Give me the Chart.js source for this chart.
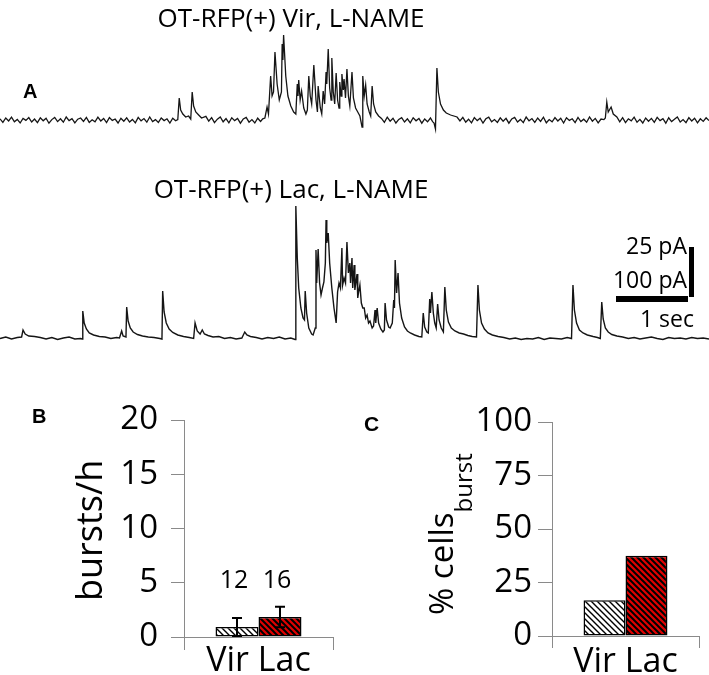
<!DOCTYPE html>
<html>
<head>
<meta charset="utf-8">
<script src="https://cdn.jsdelivr.net/npm/chart.js"></script>
<style>
  body { margin: 0; background: #fff; }
  #page { position: relative; width: 709px; height: 675px; overflow: hidden; font-family: "Open Sans", sans-serif; color: #000; }
  canvas { position: absolute; }
  .txt { position: absolute; white-space: nowrap; line-height: 1; }
  .panel { font-family: "Liberation Sans", Arial, sans-serif; font-weight: bold; font-size: 20px; }
  .rot { position: absolute; left: 0; top: 0; transform-origin: 0 0; white-space: nowrap; line-height: 1; }
  .bar { position: absolute; background: #000; }
</style>
</head>
<body>
<div id="page">
  <canvas id="trace1" width="709" height="106" style="left:0;top:30px"></canvas>
  <canvas id="trace2" width="709" height="150" style="left:0;top:198px"></canvas>
  <canvas id="burstsChart" width="250" height="295" style="left:100px;top:380px"></canvas>
  <canvas id="cellsChart" width="249" height="295" style="left:460px;top:380px"></canvas>

  <div class="txt" style="left:91px;top:4px;width:400px;text-align:center;font-size:26px">OT-RFP(+) Vir, L-NAME</div>
  <div class="txt" style="left:91px;top:175px;width:400px;text-align:center;font-size:26px">OT-RFP(+) Lac, L-NAME</div>
  <div class="txt panel" style="left:23px;top:81px">A</div>
  <div class="txt panel" style="left:32px;top:406px">B</div>
  <div class="txt panel" style="left:364px;top:413px;font-size:21px">C</div>

  <div class="txt" style="right:22px;top:234px;font-size:23px">25 pA</div>
  <div class="txt" style="right:22px;top:268px;font-size:23px">100 pA</div>
  <div class="txt" style="right:15px;top:307px;font-size:23px">1 sec</div>
  <div class="bar" style="left:689px;top:247px;width:5px;height:50px"></div>
  <div class="bar" style="left:616px;top:296px;width:72px;height:6px"></div>

  <div class="rot" style="transform:translate(71px,601px) rotate(-90deg);font-size:36px">bursts/h</div>
  <div class="rot" style="transform:translate(424px,615px) rotate(-90deg);font-size:33px">% cells<span style="font-size:24px;position:relative;top:19px">burst</span></div>
</div>

<script>
// traces: [time (s), current (pA)]
const trace1 = [
  [0.00,0.6],[0.04,-1.2],[0.08,1.0],[0.12,-0.5],[0.16,1.4],[0.20,-0.9],[0.24,0.3],[0.28,-1.5],[0.32,0.8],[0.36,-0.2],
  [0.40,1.2],[0.44,-1.0],[0.48,0.5],[0.52,-1.3],[0.56,1.1],[0.60,-0.4],[0.64,0.9],[0.68,-1.6],[0.72,0.2],[0.76,1.3],
  [0.80,-0.8],[0.84,0.6],[0.88,-1.1],[0.92,1.5],[0.96,-0.3],[1.00,0.7],[1.04,-1.4],[1.08,0.4],[1.12,1.0],[1.16,-0.7],
  [1.20,1.3],[1.24,-1.2],[1.28,0.1],[1.32,-0.9],[1.36,1.4],[1.40,-0.5],[1.44,0.8],[1.48,-1.3],[1.52,1.2],[1.56,-0.2],
  [1.60,0.5],[1.64,-1.5],[1.68,0.9],[1.72,-0.6],[1.76,1.1],[1.80,-1.0],[1.84,0.3],[1.88,-1.4],[1.92,1.3],[1.96,-0.4],
  [2.00,0.7],[2.04,-1.1],[2.08,1.5],[2.12,-0.8],[2.16,0.2],[2.20,-1.2],[2.24,1.0],[2.28,-0.3],[2.32,0.6],[2.36,-1.5],
  [2.40,0.9],[2.44,-0.4],[2.47,0.2],[2.49,11],[2.51,5],[2.54,3],[2.58,1.5],[2.62,2],[2.65,0.5],[2.67,14],[2.69,7],
  [2.72,4],[2.76,2.5],[2.80,1],[2.86,1.8],[2.90,-0.6],[2.94,1.2],[2.98,-1.3],[3.02,0.4],[3.06,1.5],[3.10,-0.9],
  [3.14,0.7],[3.18,-1.4],[3.22,1.1],[3.26,-0.3],[3.30,0.8],[3.34,-1.6],[3.38,0.5],[3.42,1.3],[3.46,-1.1],[3.50,0.2],
  [3.54,-1.5],[3.58,0.9],[3.62,-0.7],[3.65,0.6],
  [3.68,1],[3.71,6.5],[3.73,3],[3.76,22],[3.78,12],[3.80,14],[3.82,34],[3.85,18],
  [3.88,10],[3.91,14],[3.92,38],[3.93,30],[3.94,42.5],[3.97,22],[4.00,12],[4.04,7],[4.08,4],[4.11,3],[4.13,18],
  [4.14,12],[4.15,20],[4.17,10],[4.19,14.5],[4.22,6],[4.25,3],[4.27,5],[4.29,22],[4.31,12],[4.33,8],[4.36,27.5],
  [4.39,10],[4.41,4],[4.42,17],[4.45,6],[4.47,3],[4.49,14.5],[4.51,8],[4.53,24],[4.54,18],[4.56,35.5],[4.58,16],
  [4.60,10],[4.61,31],[4.63,14],[4.65,8],[4.67,23.5],[4.69,10],[4.71,6],[4.72,19],[4.74,12],[4.75,23],[4.77,15],
  [4.78,20.5],[4.80,11],[4.82,25.5],[4.84,12],[4.86,7],[4.89,24],[4.91,11],[4.94,6],[4.97,4],[5.00,2],[5.03,-3.5],
  [5.04,22],[5.06,12],[5.08,17.5],[5.10,8],[5.13,4],[5.15,2],[5.17,17],[5.19,8],[5.22,4],[5.26,2],
  [5.30,0.8],[5.34,-1.2],[5.38,1.4],[5.42,-0.6],[5.46,0.9],[5.50,-1.5],[5.54,0.3],[5.58,1.2],[5.62,-1.0],[5.66,0.6],
  [5.70,-1.4],[5.74,1.1],[5.78,-0.4],[5.82,0.8],[5.86,-1.6],[5.90,0.5],[5.94,-0.9],[5.98,1.0],[6.01,-0.8],[6.03,-1.5],
  [6.05,-4.5],[6.07,26],[6.09,14],[6.12,8],[6.16,5],[6.20,3.5],[6.26,2.5],[6.35,1.5],
  [6.39,-0.5],[6.43,1.3],[6.47,-1.1],[6.51,0.4],[6.55,-1.4],[6.59,1.2],[6.63,-0.3],[6.67,0.9],[6.71,-1.5],[6.75,0.6],
  [6.79,1.4],[6.83,-0.9],[6.87,0.2],[6.91,-1.2],[6.95,1.1],[6.99,-0.6],[7.03,0.8],[7.07,-1.6],[7.11,0.5],[7.15,1.3],
  [7.19,-1.0],[7.23,0.3],[7.27,-1.3],[7.31,1.5],[7.35,-0.4],[7.39,0.7],[7.43,-1.2],[7.47,1.0],[7.51,-0.7],[7.55,1.4],
  [7.59,-1.4],[7.63,0.2],[7.67,-0.9],[7.71,1.2],[7.75,-0.5],[7.79,0.9],[7.83,-1.5],[7.87,1.1],[7.91,-0.2],[7.95,0.6],
  [7.99,-1.3],[8.03,1.3],[8.07,-0.8],[8.11,0.4],[8.15,-1.1],[8.19,1.5],[8.23,-0.6],[8.27,0.8],[8.31,-1.4],[8.35,0.5],
  [8.39,0.2],[8.41,1],[8.43,9],[8.45,4],[8.49,6.5],[8.52,3],[8.57,1.5],
  [8.61,-0.9],[8.65,1.2],[8.69,-1.3],[8.73,0.6],[8.77,-0.4],[8.81,1.4],[8.85,-1.1],[8.89,0.3],[8.93,-1.5],[8.97,1.0],
  [9.01,-0.6],[9.05,0.8],[9.09,-1.2],[9.13,1.3],[9.17,-0.3],[9.21,0.7],[9.25,-1.6],[9.29,1.1],[9.33,-0.8],[9.37,0.4],
  [9.41,1.5],[9.45,-1.0],[9.49,0.2],[9.53,-1.3],[9.57,1.2],[9.61,-0.5],[9.65,0.9],[9.69,-1.4],[9.73,0.6],[9.77,-0.7],
  [9.81,1.1],[9.85,-0.3]
];

const trace2 = [
  [0,-1],[0.08,2],[0.16,-2],[0.24,1],[0.30,2],[0.32,16],[0.35,8],[0.40,4],[0.48,3],[0.56,1],[0.64,-2],[0.72,1],
  [0.80,-3],[0.88,0],[0.96,2],[1.04,-2],[1.12,-1],[1.14,-2],[1.15,54],[1.17,30],[1.20,18],[1.24,10],[1.30,6],
  [1.38,3],[1.46,2],[1.54,-1],[1.62,1],[1.66,0],[1.69,14],[1.71,4],[1.75,2],[1.76,62],[1.78,34],[1.81,20],[1.85,12],
  [1.91,7],[1.98,4],[2.06,2],[2.14,1],[2.22,-1],[2.25,-2],[2.26,94],[2.28,52],[2.31,30],[2.35,18],[2.40,11],[2.47,6],
  [2.55,3],[2.63,1],[2.69,-1],[2.71,30],[2.74,14],[2.78,8],[2.81,16],[2.84,8],[2.89,5],[2.96,2],[3.04,3],[3.12,-1],
  [3.20,1],[3.28,-2],[3.36,0],[3.40,12],[3.43,6],[3.48,3],[3.56,1],[3.64,-2],[3.72,1],[3.80,-1],[3.88,2],[3.96,-2],
  [4.04,0],[4.10,-3],[4.11,264],[4.13,160],[4.15,100],[4.18,60],[4.21,40],[4.23,36],[4.24,94],[4.26,50],[4.29,20],
  [4.33,8],[4.35,6],[4.38,20],[4.39,176],[4.40,110],[4.42,178],[4.44,110],[4.46,86],[4.48,100],[4.50,112],[4.52,150],
  [4.53,236],[4.54,190],[4.56,210],[4.58,150],[4.61,100],[4.64,60],[4.67,30],[4.69,92],[4.71,110],[4.73,100],
  [4.75,180],[4.76,106],[4.78,120],[4.80,110],[4.82,192],[4.84,130],[4.86,150],[4.87,110],[4.89,160],[4.90,100],
  [4.92,146],[4.93,96],[4.96,128],[4.97,80],[4.98,90],[5.00,106],[5.02,70],[5.04,60],[5.06,60],[5.08,40],[5.10,46],
  [5.12,30],[5.14,34],[5.17,20],[5.19,24],[5.21,56],[5.22,30],[5.24,60],[5.26,30],[5.29,18],[5.32,12],[5.34,16],
  [5.35,70],[5.37,36],[5.40,22],[5.42,20],[5.45,30],[5.47,76],[5.48,60],[5.49,156],[5.51,90],[5.53,130],[5.55,70],
  [5.58,40],[5.62,22],[5.66,14],[5.70,10],[5.76,6],[5.82,3],[5.86,2],[5.88,50],[5.90,22],[5.93,12],[5.95,10],
  [5.97,78],[5.98,50],[6.00,92],[6.02,50],[6.04,30],[6.06,20],[6.08,68],[6.10,36],[6.13,20],[6.16,12],[6.18,102],
  [6.20,56],[6.23,32],[6.27,20],[6.32,14],[6.38,10],[6.44,8],[6.50,5],[6.56,3],[6.62,2],[6.64,106],[6.66,56],
  [6.69,30],[6.73,18],[6.78,10],[6.84,6],[6.92,3],[7.00,1],[7.08,-2],[7.16,0],[7.24,-3],[7.32,-1],[7.40,-2],[7.48,1],
  [7.56,-3],[7.64,0],[7.72,-1],[7.80,-2],[7.88,1],[7.94,-1],[7.96,106],[7.98,56],[8.01,30],[8.05,16],[8.10,10],
  [8.16,6],[8.24,3],[8.30,1],[8.34,-1],[8.36,72],[8.38,38],[8.41,20],[8.45,12],[8.50,7],[8.57,4],[8.65,2],[8.73,-1],
  [8.81,1],[8.89,-2],[8.97,0],[9.05,2],[9.13,-1],[9.21,-3],[9.29,1],[9.37,-1],[9.45,0],[9.53,-2],[9.61,1],[9.69,-1],
  [9.77,0],[9.85,-2]
];

const groups = ["Vir", "Lac"];
const categoryLabel = ["Vir Lac"];
const burstsMean = [0.92, 1.84];
const burstsErr = [0.83, 0.94];
const cellCounts = [12, 16];
const cellsBurstPct = [16.7, 37.5];
const burstTicks = [0, 5, 10, 15, 20];
const pctTicks = [0, 25, 50, 75, 100];

Chart.defaults.font.family = "'Open Sans', sans-serif";
Chart.defaults.color = "#000";

function hatch(bg, lineW) {
    let s = 6;
    let c = document.createElement("canvas");
    c.width = s; c.height = s;
    let g = c.getContext("2d");
    g.fillStyle = bg;
    g.fillRect(0, 0, s, s);
    g.strokeStyle = "#000";
    g.lineWidth = lineW;
    g.beginPath();
    [-1, 0, 1].forEach(k => {
        g.moveTo(k * s - 1, -1);
        g.lineTo(k * s + s + 1, s + 1);
    });
    g.stroke();
    return g.createPattern(c, "repeat");
}

function traceChart(id, data, yMin, yMax, lw) {
    new Chart(document.getElementById(id), {
        type: "line",
        data: {
            datasets: [{
                data: data.map(p => ({ x: p[0], y: p[1] })),
                borderColor: "#151515",
                borderWidth: lw,
                pointRadius: 0,
                tension: 0,
                clip: false
            }]
        },
        options: {
            responsive: false,
            animation: false,
            layout: { padding: 0 },
            scales: {
                x: { type: "linear", min: 0, max: 9.85, display: false },
                y: { min: yMin, max: yMax, display: false }
            },
            plugins: { legend: { display: false }, tooltip: { enabled: false } }
        }
    });
}

traceChart("trace1", trace1, -8, 45, 1.3);
traceChart("trace2", trace2, -20, 280, 1.4);

let virFill = hatch("#ffffff", 1.4);
let lacFill = hatch("#e00000", 2);
let axisGray = "#8a8a8a";

// error bars + n above bars
const errorBarPlugin = {
    id: "errorBars",
    afterDatasetsDraw(chart, args, opts) {
        if (!opts.err) return;
        let ctx = chart.ctx;
        let y = chart.scales.y;
        ctx.save();
        ctx.strokeStyle = "#000";
        ctx.lineWidth = 2;
        chart.data.datasets.forEach((ds, i) => {
            let bar = chart.getDatasetMeta(i).data[0];
            let m = ds.data[0];
            let top = y.getPixelForValue(m + opts.err[i]);
            let bot = y.getPixelForValue(m - opts.err[i]);
            ctx.beginPath();
            ctx.moveTo(bar.x, top); ctx.lineTo(bar.x, bot);
            ctx.moveTo(bar.x - 5, top); ctx.lineTo(bar.x + 5, top);
            ctx.moveTo(bar.x - 5, bot); ctx.lineTo(bar.x + 5, bot);
            ctx.stroke();
            ctx.fillStyle = "#000";
            ctx.font = "25px 'Open Sans'";
            ctx.textAlign = "center";
            ctx.textBaseline = "middle";
            ctx.fillText(String(opts.n[i]), bar.x - 3, y.getPixelForValue(opts.labelAt));
        });
        ctx.restore();
    }
};

function barChart(id, values, yMax, opt, extra) {
    return new Chart(document.getElementById(id), {
        type: "bar",
        data: {
            labels: categoryLabel,
            datasets: groups.map((g, i) => ({
                label: g,
                data: [values[i]],
                backgroundColor: i === 0 ? virFill : lacFill,
                borderColor: "#000",
                borderWidth: 1.5,
                borderSkipped: false,
                categoryPercentage: opt.catPct,
                barPercentage: 1
            }))
        },
        options: {
            responsive: false,
            animation: false,
            layout: { padding: { top: opt.padTop, right: opt.padRight, left: 0, bottom: 0 } },
            scales: {
                x: {
                    offset: true,
                    border: { color: axisGray, width: 1 },
                    grid: { offset: true, drawOnChartArea: false, tickLength: opt.xTick, color: axisGray },
                    ticks: { font: { size: 34 }, padding: opt.xPad },
                    afterFit: s => { s.height = opt.xHeight; }
                },
                y: {
                    min: 0, max: yMax,
                    afterBuildTicks: s => { s.ticks = opt.ticks.map(v => ({ value: v })); },
                    border: { color: axisGray, width: 1 },
                    grid: { drawOnChartArea: false, tickLength: opt.yTick, color: axisGray },
                    ticks: { font: { size: 33 }, padding: opt.yPad },
                    afterFit: s => { s.width = opt.yWidth; }
                }
            },
            plugins: {
                legend: { display: false },
                tooltip: { enabled: false },
                errorBars: extra || {}
            }
        },
        plugins: [errorBarPlugin]
    });
}

barChart("burstsChart", burstsMean, 20,
    { catPct: 0.577, padTop: 40, padRight: 17, xHeight: 38, yWidth: 84, xTick: 13, yTick: 13, xPad: -9, yPad: 13, ticks: burstTicks },
    { err: burstsErr, n: cellCounts, labelAt: 5.2 });

barChart("cellsChart", cellsBurstPct, 100,
    { catPct: 0.571, padTop: 42, padRight: 10, xHeight: 39, yWidth: 92, xTick: 12, yTick: 14, xPad: -6, yPad: 6, ticks: pctTicks },
    null);
</script>
</body>
</html>
